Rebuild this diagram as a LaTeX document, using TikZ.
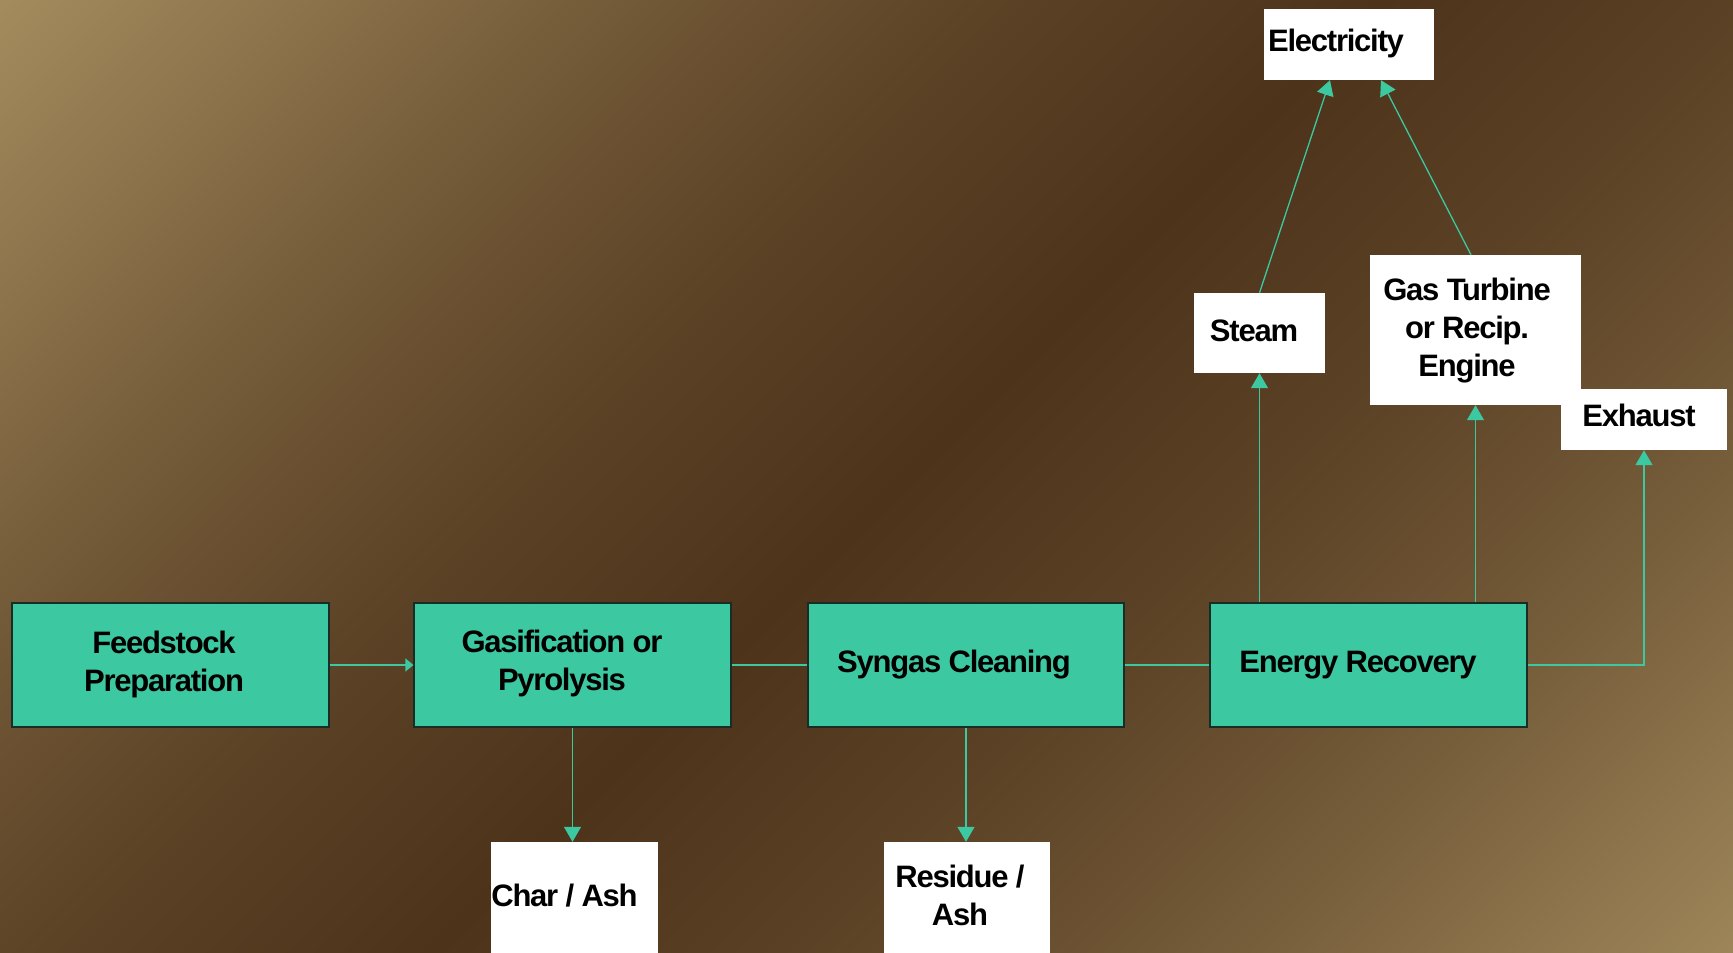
\documentclass[tikz,border=0pt]{standalone}
\usepackage{fontspec}
\setmainfont{Liberation Sans}
\newfontfamily\lblfont{Liberation Sans}[LetterSpace=-4.0]
\usetikzlibrary{arrows.meta,calc}
\definecolor{bglight}{RGB}{166,142,96}
\definecolor{bgdark}{RGB}{77,51,26}
\colorlet{bgmidA}{bglight!15!bgdark}
\colorlet{bgmidB}{bglight!38!bgdark}
\definecolor{boxteal}{RGB}{60,200,160}
\definecolor{boxedge}{RGB}{25,45,38}
\pgfdeclarehorizontalshading{bgshade}{100bp}{color(0bp)=(bglight); color(25bp)=(bglight); color(37.5bp)=(bgmidB); color(43.75bp)=(bgmidA); color(50bp)=(bgdark); color(56.25bp)=(bgmidA); color(62.5bp)=(bgmidB); color(75bp)=(bglight); color(100bp)=(bglight)}
\tikzset{
  procbox/.style={rectangle, fill=boxteal, draw=boxedge, line width=1.2pt, inner sep=0pt, minimum width=317, minimum height=124},
  outbox/.style={rectangle, fill=white, draw=none, inner sep=0pt},
  lbl/.style={anchor=base, align=center, inner sep=0pt, font=\fontsize{31}{38}\selectfont\lblfont\bfseries, text=black},
  conn/.style={draw=boxteal, line width=1.3pt},
  arr/.style={conn, -{Triangle[length=15pt,width=17pt]}},
  smallarr/.style={conn, -{Triangle[length=8pt,width=13pt]}}
}
\begin{document}
\begin{tikzpicture}[x=1pt,y=-1pt]
\useasboundingbox (0,0) rectangle (1733,953);
\begin{scope}
\clip (0,0) rectangle (1733,953);
\begin{scope}[transform canvas={shift={(886.5,496.5)}, rotate=-45}]
\shade[shading=bgshade] (-1000,-1100) rectangle (1000,1100);
\end{scope}
\end{scope}
% process boxes
\node[procbox] (feed) at (170.5,665) {};
\node[procbox] (gas) at (572.5,665) {};
\node[procbox, minimum width=316] (syn) at (966,665) {};
\node[procbox] (er) at (1368.5,665) {};
% output boxes
\node[outbox, minimum width=170, minimum height=71] (elec) at (1348.5,44.5) {};
\node[outbox, minimum width=131, minimum height=80] (steam) at (1259.5,333) {};
\node[outbox, minimum width=211, minimum height=150] (gt) at (1475.5,330) {};
\node[outbox, minimum width=166, minimum height=61] (ex) at (1644,419.5) {};
\node[outbox, minimum width=167, minimum height=111] (char) at (574.5,897.5) {};
\node[outbox, minimum width=166, minimum height=111] (res) at (967,897.5) {};
% labels
\node[lbl] (feedT) at (164,691) {Feedstock\\Preparation};
\node[lbl] (gasT) at (562,690) {Gasification or\\Pyrolysis};
\node[lbl] (synT) at (954,672) {Syngas Cleaning};
\node[lbl] (erT) at (1358,672) {Energy Recovery};
\node[lbl] (elecT) at (1336,51) {Electricity};
\node[lbl] (steamT) at (1254,341) {Steam};
\node[lbl] (gtT) at (1467,376) {Gas Turbine\\or Recip.\\Engine};
\node[lbl] (exT) at (1639,426) {Exhaust};
\node[lbl] (charT) at (564.5,906) {Char / Ash};
\node[lbl] (resT) at (960,925) {Residue /\\Ash};
% connectors
\coordinate (elecL) at ($(elec.south)+(-18.5,0)$);
\coordinate (elecR) at ($(elec.south)+(32.5,0)$);
\coordinate (gtTop) at ($(gt.north)+(-4.5,0)$);
\draw[smallarr] (feed.east) -- (gas.west);
\draw[conn] (gas.east) -- (syn.west);
\draw[conn] (syn.east) -- (er.west);
\draw[arr] (gas.south) -- (gas.south |- char.north);
\draw[arr] (syn.south) -- (syn.south |- res.north);
\draw[arr] (steam.south |- er.north) -- (steam.south);
\draw[arr] (gt.south |- er.north) -- (gt.south);
\draw[arr] (er.east) -| (ex.south);
\draw[arr] (steam.north) -- (elecL);
\draw[arr] (gtTop) -- (elecR);
\end{tikzpicture}
\end{document}
